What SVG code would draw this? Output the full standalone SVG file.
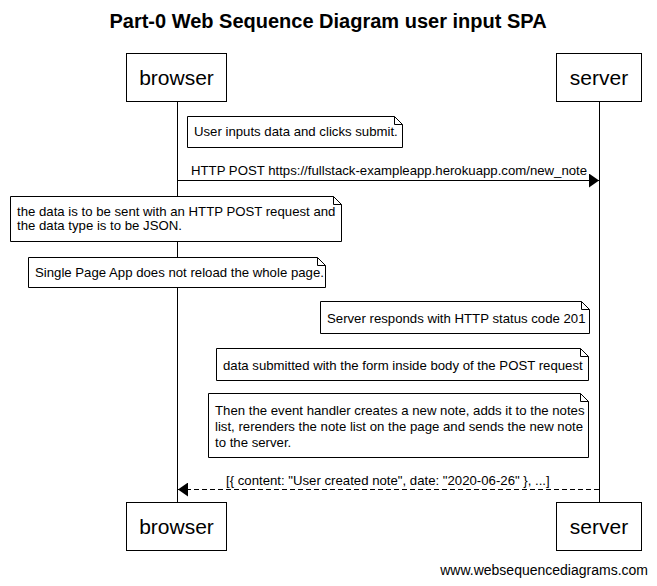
<svg xmlns="http://www.w3.org/2000/svg" width="657" height="586" viewBox="0 0 657 586">
<defs>
<style>
text{font-family:"Liberation Sans",Arial,sans-serif;fill:#000}
.title{font-size:20px;font-weight:bold}
.actor{font-size:21px}
.note{font-size:13.2px}
.wm{font-size:14px}
.box{fill:#fff;stroke:#000;stroke-width:1}
.life{stroke:#000;stroke-width:1}
.msg{stroke:#000;stroke-width:1;fill:none}
.dash{stroke-dasharray:5,3}
</style>
<marker id="ah" markerWidth="10" markerHeight="14" refX="10" refY="7" orient="auto" markerUnits="userSpaceOnUse">
<path d="M0,0 L10,7 L0,14 Z" fill="#000"/>
</marker>
</defs>
<rect width="657" height="586" fill="#fff"/>
<text class="title" x="328" y="28" text-anchor="middle">Part-0 Web Sequence Diagram user input SPA</text>

<g id="lifelines">
<line class="life" x1="177.5" y1="102" x2="177.5" y2="502"/>
<line class="life" x1="599.5" y1="102" x2="599.5" y2="502"/>
</g>

<g id="browser-top"><rect class="box" x="126.5" y="53.5" width="100" height="48"/><text class="actor" x="176.5" y="85" text-anchor="middle">browser</text></g>
<g id="server-top"><rect class="box" x="556.5" y="53.5" width="85" height="48"/><text class="actor" x="599" y="85" text-anchor="middle">server</text></g>
<g id="browser-bottom"><rect class="box" x="126.5" y="502.5" width="100" height="48"/><text class="actor" x="176.5" y="534" text-anchor="middle">browser</text></g>
<g id="server-bottom"><rect class="box" x="556.5" y="502.5" width="85" height="48"/><text class="actor" x="599" y="534" text-anchor="middle">server</text></g>

<g id="note1"><path class="box" d="M187.5,116.5 H394.5 L402.5,124.5 V147.5 H187.5 Z"/><path class="msg" d="M394.5,116.5 V124.5 H402.5"/><text class="note" x="194" y="136">User inputs data and clicks submit.</text></g>

<g id="connectors">
<line class="msg" x1="177.5" y1="180.5" x2="599" y2="180.5" marker-end="url(#ah)"/>
<text class="note" x="191" y="175">HTTP POST https://fullstack-exampleapp.herokuapp.com/new_note</text>
<line class="msg dash" x1="599" y1="489.5" x2="178" y2="489.5" marker-end="url(#ah)"/>
<text class="note" x="226" y="485">[{ content: "User created note", date: "2020-06-26" }, ...]</text>
</g>

<g id="note2"><path class="box" d="M10.5,196.5 H333.5 L341.5,204.5 V241.5 H10.5 Z"/><path class="msg" d="M333.5,196.5 V204.5 H341.5"/><text class="note" x="17" y="216">the data is to be sent with an HTTP POST request and</text><text class="note" x="17" y="230">the data type is to be JSON.</text></g>

<g id="note3"><path class="box" d="M28.5,257.5 H317.5 L325.5,265.5 V287.5 H28.5 Z"/><path class="msg" d="M317.5,257.5 V265.5 H325.5"/><text class="note" x="35" y="277">Single Page App does not reload the whole page.</text></g>

<g id="note4"><path class="box" d="M320.5,301.5 H581.5 L589.5,309.5 V333.5 H320.5 Z"/><path class="msg" d="M581.5,301.5 V309.5 H589.5"/><text class="note" x="327" y="323">Server responds with HTTP status code 201</text></g>

<g id="note5"><path class="box" d="M216.5,348.5 H580.5 L588.5,356.5 V380.5 H216.5 Z"/><path class="msg" d="M580.5,348.5 V356.5 H588.5"/><text class="note" x="223" y="370">data submitted with the form inside body of the POST request</text></g>

<g id="note6"><path class="box" d="M208.5,393.5 H580.5 L588.5,401.5 V457.5 H208.5 Z"/><path class="msg" d="M580.5,393.5 V401.5 H588.5"/><text class="note" x="215" y="415">Then the event handler creates a new note, adds it to the notes</text><text class="note" x="215" y="431">list, rerenders the note list on the page and sends the new note</text><text class="note" x="215" y="447">to the server.</text></g>

<text class="wm" x="648" y="575" text-anchor="end">www.websequencediagrams.com</text>
</svg>
